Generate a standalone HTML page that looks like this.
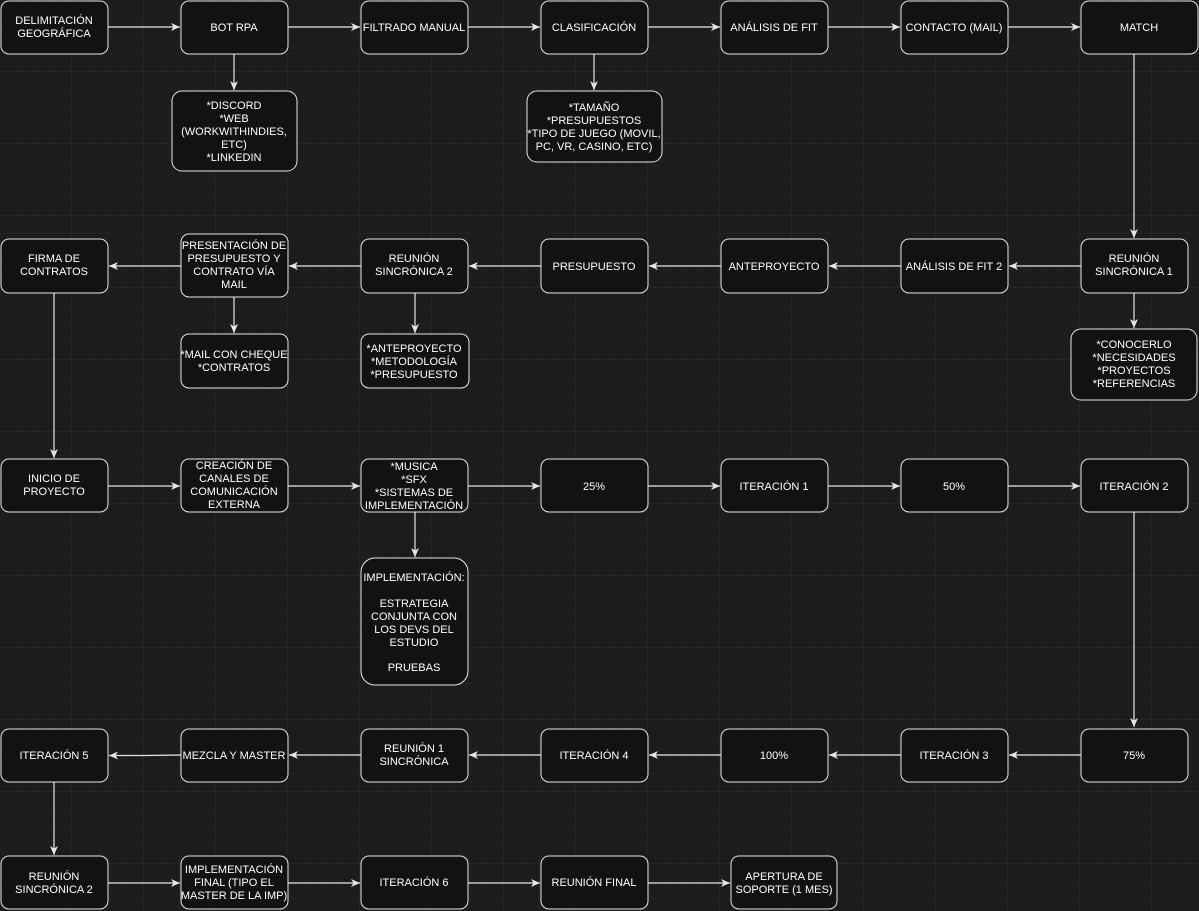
<!DOCTYPE html>
<html><head><meta charset="utf-8"><style>
html,body{margin:0;padding:0;background:#1c1c1c;}
svg{display:block;}
text{font-family:"Liberation Sans",Arial,sans-serif;font-size:11px;fill:#fff;text-anchor:middle;}
.b{fill:#121212;stroke:#e6e6e6;stroke-width:1;}
.e{stroke:#e6e6e6;stroke-width:1.2;fill:none;marker-end:url(#a);}
</style></head><body>
<svg width="1199" height="911" viewBox="0 0 1199 911" xmlns="http://www.w3.org/2000/svg">
<defs>
<pattern id="g1" width="18" height="18" patternUnits="userSpaceOnUse"><path d="M18 0V18M0 18H18" stroke="#262626" stroke-width="1"/></pattern>
<pattern id="g2" width="72" height="72" patternUnits="userSpaceOnUse"><path d="M72 0V72M0 72H72" stroke="#2e2e2e" stroke-width="1"/></pattern>
<marker id="a" markerWidth="10" markerHeight="10" refX="9" refY="5" orient="auto" markerUnits="userSpaceOnUse"><path d="M0,1 L9,5 L0,9 L2.5,5 Z" fill="#e6e6e6"/></marker>
</defs>
<rect width="1199" height="911" fill="#1c1c1c"/>
<rect width="1199" height="911" fill="url(#g1)"/>
<rect width="1199" height="911" fill="url(#g2)"/>

<!-- edges row1 -->
<path class="e" d="M108 27H180"/>
<path class="e" d="M288 27H360"/>
<path class="e" d="M468 27H540"/>
<path class="e" d="M648 27H720"/>
<path class="e" d="M828 27H900"/>
<path class="e" d="M1008 27H1080"/>
<path class="e" d="M234 54V90"/>
<path class="e" d="M594 54V90"/>
<path class="e" d="M1134 54V238"/>
<!-- row2 -->
<path class="e" d="M1081 266H1009"/>
<path class="e" d="M901 266H829"/>
<path class="e" d="M721 266H649"/>
<path class="e" d="M541 266H469"/>
<path class="e" d="M361 266H289"/>
<path class="e" d="M181 266H109"/>
<path class="e" d="M1134 293V328"/>
<path class="e" d="M234 297V333"/>
<path class="e" d="M415 293V333"/>
<path class="e" d="M54 293V458"/>
<!-- row3 -->
<path class="e" d="M108 486H180"/>
<path class="e" d="M288 486H360"/>
<path class="e" d="M468 486H540"/>
<path class="e" d="M648 486H720"/>
<path class="e" d="M828 486H900"/>
<path class="e" d="M1008 486H1080"/>
<path class="e" d="M415 512V557"/>
<path class="e" d="M1134 512V727"/>
<!-- row4 -->
<path class="e" d="M1081 755H1009"/>
<path class="e" d="M901 755H829"/>
<path class="e" d="M721 755H649"/>
<path class="e" d="M541 755H469"/>
<path class="e" d="M361 755H289"/>
<path class="e" d="M181 755L145 755.5H109"/>
<path class="e" d="M54 782V855"/>
<!-- row5 -->
<path class="e" d="M108 883H180"/>
<path class="e" d="M288 883H360"/>
<path class="e" d="M468 883H540"/>
<path class="e" d="M648 883H730"/>

<!-- row1 nodes -->
<rect class="b" x="1" y="1" width="107" height="53" rx="8"/>
<text x="54" y="24">DELIMITACIÓN</text><text x="54" y="37">GEOGRÁFICA</text>
<rect class="b" x="181" y="1" width="107" height="53" rx="8"/>
<text x="234" y="31">BOT RPA</text>
<rect class="b" x="361" y="1" width="107" height="53" rx="8"/>
<text x="414" y="31">FILTRADO MANUAL</text>
<rect class="b" x="541" y="1" width="107" height="53" rx="8"/>
<text x="594" y="31">CLASIFICACIÓN</text>
<rect class="b" x="721" y="1" width="107" height="53" rx="8"/>
<text x="774" y="31">ANÁLISIS DE FIT</text>
<rect class="b" x="901" y="1" width="107" height="53" rx="8"/>
<text x="954" y="31">CONTACTO (MAIL)</text>
<rect class="b" x="1081" y="1" width="117" height="53" rx="8"/>
<text x="1139" y="31">MATCH</text>

<rect class="b" x="172" y="91" width="125" height="80" rx="10"/>
<text x="234" y="109">*DISCORD</text><text x="234" y="122">*WEB</text><text x="234" y="135">(WORKWITHINDIES,</text><text x="234" y="148">ETC)</text><text x="234" y="161">*LINKEDIN</text>
<rect class="b" x="527" y="91" width="135" height="71" rx="10"/>
<text x="594" y="111">*TAMAÑO</text><text x="594" y="124">*PRESUPUESTOS</text><text x="594" y="137">*TIPO DE JUEGO (MOVIL,</text><text x="594" y="150">PC, VR, CASINO, ETC)</text>

<!-- row2 -->
<rect class="b" x="1" y="239" width="107" height="54" rx="8"/>
<text x="54" y="262">FIRMA DE</text><text x="54" y="275">CONTRATOS</text>
<rect class="b" x="181" y="234" width="107" height="63" rx="8"/>
<text x="234" y="249">PRESENTACIÓN DE</text><text x="234" y="262">PRESUPUESTO Y</text><text x="234" y="275">CONTRATO VÍA</text><text x="234" y="288">MAIL</text>
<rect class="b" x="361" y="239" width="107" height="54" rx="8"/>
<text x="414" y="262">REUNIÓN</text><text x="414" y="275">SINCRÓNICA 2</text>
<rect class="b" x="541" y="239" width="107" height="54" rx="8"/>
<text x="594" y="270">PRESUPUESTO</text>
<rect class="b" x="721" y="239" width="107" height="54" rx="8"/>
<text x="774" y="270">ANTEPROYECTO</text>
<rect class="b" x="901" y="239" width="107" height="54" rx="8"/>
<text x="954" y="270">ANÁLISIS DE FIT 2</text>
<rect class="b" x="1081" y="239" width="107" height="54" rx="8"/>
<text x="1134" y="262">REUNIÓN</text><text x="1134" y="275">SINCRÓNICA 1</text>

<rect class="b" x="181" y="334" width="107" height="54" rx="8"/>
<text x="234" y="358">*MAIL CON CHEQUE</text><text x="234" y="371">*CONTRATOS</text>
<rect class="b" x="361" y="334" width="108" height="54" rx="8"/>
<text x="414" y="352">*ANTEPROYECTO</text><text x="414" y="365">*METODOLOGÍA</text><text x="414" y="378">*PRESUPUESTO</text>
<rect class="b" x="1071" y="329" width="126" height="71" rx="10"/>
<text x="1134" y="348">*CONOCERLO</text><text x="1134" y="361">*NECESIDADES</text><text x="1134" y="374">*PROYECTOS</text><text x="1134" y="387">*REFERENCIAS</text>

<!-- row3 -->
<rect class="b" x="1" y="459" width="107" height="53" rx="8"/>
<text x="54" y="482">INICIO DE</text><text x="54" y="495">PROYECTO</text>
<rect class="b" x="181" y="459" width="107" height="53" rx="8"/>
<text x="234" y="469">CREACIÓN DE</text><text x="234" y="482">CANALES DE</text><text x="234" y="495">COMUNICACIÓN</text><text x="234" y="508">EXTERNA</text>
<rect class="b" x="361" y="459" width="107" height="53" rx="8"/>
<text x="414" y="470">*MUSICA</text><text x="414" y="483">*SFX</text><text x="414" y="496">*SISTEMAS DE</text><text x="414" y="509">IMPLEMENTACIÓN</text>
<rect class="b" x="541" y="459" width="107" height="53" rx="8"/>
<text x="594" y="490">25%</text>
<rect class="b" x="721" y="459" width="107" height="53" rx="8"/>
<text x="774" y="490">ITERACIÓN 1</text>
<rect class="b" x="901" y="459" width="107" height="53" rx="8"/>
<text x="954" y="490">50%</text>
<rect class="b" x="1081" y="459" width="107" height="53" rx="8"/>
<text x="1134" y="490">ITERACIÓN 2</text>

<rect class="b" x="361" y="558" width="107" height="127" rx="14"/>
<text x="414" y="581">IMPLEMENTACIÓN:</text>
<text x="414" y="607">ESTRATEGIA</text><text x="414" y="620">CONJUNTA CON</text><text x="414" y="633">LOS DEVS DEL</text><text x="414" y="646">ESTUDIO</text>
<text x="414" y="671">PRUEBAS</text>

<!-- row4 -->
<rect class="b" x="1" y="729" width="107" height="53" rx="8"/>
<text x="54" y="759">ITERACIÓN 5</text>
<rect class="b" x="181" y="729" width="107" height="53" rx="8"/>
<text x="234" y="759">MEZCLA Y MASTER</text>
<rect class="b" x="361" y="729" width="107" height="53" rx="8"/>
<text x="414" y="752">REUNIÓN 1</text><text x="414" y="765">SINCRÓNICA</text>
<rect class="b" x="541" y="729" width="107" height="53" rx="8"/>
<text x="594" y="759">ITERACIÓN 4</text>
<rect class="b" x="721" y="729" width="107" height="53" rx="8"/>
<text x="774" y="759">100%</text>
<rect class="b" x="901" y="729" width="107" height="53" rx="8"/>
<text x="954" y="759">ITERACIÓN 3</text>
<rect class="b" x="1081" y="729" width="107" height="53" rx="8"/>
<text x="1134" y="759">75%</text>

<!-- row5 -->
<rect class="b" x="1" y="856" width="107" height="53" rx="8"/>
<text x="54" y="880">REUNIÓN</text><text x="54" y="893">SINCRÓNICA 2</text>
<rect class="b" x="181" y="856" width="107" height="53" rx="8"/>
<text x="234" y="873">IMPLEMENTACIÓN</text><text x="234" y="886">FINAL (TIPO EL</text><text x="234" y="899">MASTER DE LA IMP)</text>
<rect class="b" x="361" y="856" width="107" height="53" rx="8"/>
<text x="414" y="886">ITERACIÓN 6</text>
<rect class="b" x="541" y="856" width="107" height="53" rx="8"/>
<text x="594" y="886">REUNIÓN FINAL</text>
<rect class="b" x="731" y="856" width="106" height="53" rx="8"/>
<text x="784" y="880">APERTURA DE</text><text x="784" y="893">SOPORTE (1 MES)</text>
</svg>
</body></html>
